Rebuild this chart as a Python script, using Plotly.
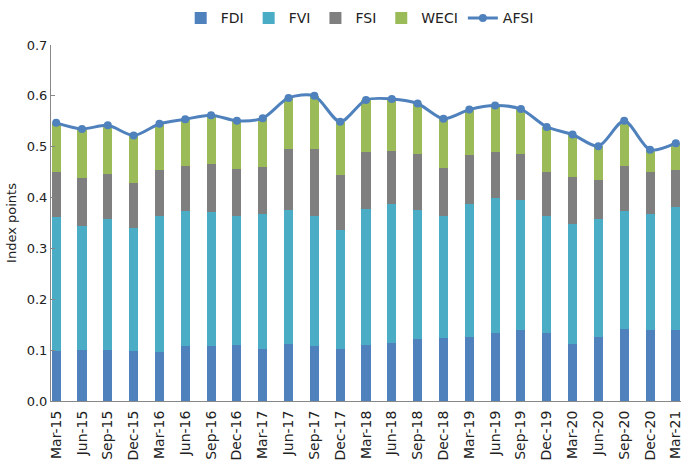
import plotly.graph_objects as go

categories = ["Mar-15","Jun-15","Sep-15","Dec-15","Mar-16","Jun-16","Sep-16","Dec-16",
              "Mar-17","Jun-17","Sep-17","Dec-17","Mar-18","Jun-18","Sep-18","Dec-18",
              "Mar-19","Jun-19","Sep-19","Dec-19","Mar-20","Jun-20","Sep-20","Dec-20","Mar-21"]

fdi = [0.098,0.100,0.100,0.098,0.096,0.108,0.109,0.111,0.103,0.112,0.108,0.103,0.110,
       0.114,0.122,0.124,0.126,0.134,0.139,0.134,0.113,0.126,0.142,0.139,0.140]
fvi = [0.264,0.244,0.258,0.243,0.268,0.266,0.262,0.253,0.264,0.264,0.256,0.233,0.267,
       0.273,0.254,0.240,0.261,0.265,0.256,0.230,0.236,0.232,0.232,0.229,0.241]
fsi = [0.088,0.095,0.089,0.088,0.090,0.088,0.095,0.092,0.093,0.119,0.131,0.108,0.113,
       0.105,0.110,0.094,0.096,0.091,0.091,0.087,0.091,0.076,0.089,0.082,0.074]
weci = [0.097,0.096,0.095,0.093,0.091,0.092,0.096,0.095,0.096,0.101,0.105,0.105,0.102,
        0.102,0.099,0.097,0.090,0.091,0.088,0.088,0.084,0.067,0.088,0.044,0.052]
afsi = [0.547,0.535,0.542,0.522,0.545,0.554,0.562,0.551,0.556,0.596,0.600,0.549,0.592,
        0.594,0.585,0.555,0.573,0.581,0.574,0.539,0.524,0.501,0.551,0.494,0.507]

y_ticks = [0.0, 0.1, 0.2, 0.3, 0.4, 0.5, 0.6, 0.7]

FONT = "DejaVu Sans"
bar_w = 0.35

fig = go.Figure()
for name, vals, col in [("FDI", fdi, "#4F81BD"), ("FVI", fvi, "#4BACC6"),
                        ("FSI", fsi, "#7F7F7F"), ("WECI", weci, "#9BBB59")]:
    fig.add_trace(go.Bar(x=categories, y=vals, name=name, marker_color=col,
                         marker_line_width=0, width=bar_w))

fig.add_trace(go.Scatter(x=categories, y=afsi, name="AFSI", mode="lines+markers",
                         line=dict(color="#4F81BD", width=3, shape="spline", smoothing=0.8),
                         marker=dict(size=8, color="#4F81BD"), cliponaxis=False))

fig.update_layout(
    barmode="stack",
    width=681, height=463,
    margin=dict(l=51, r=0, t=45, b=62),
    plot_bgcolor="white", paper_bgcolor="white",
    font=dict(family=FONT, size=13, color="#222222"),
    showlegend=True,
    legend=dict(orientation="h", x=0.49, xanchor="center", y=0.995, yanchor="top",
                yref="container", font=dict(size=14), itemwidth=30,
                traceorder="normal"),
    xaxis=dict(type="category", range=[-0.2, 24.2], showgrid=False, automargin=False,
               showline=True, linecolor="#888888", linewidth=1,
               tickangle=-90, ticks="", tickfont=dict(size=14), ticklabelstandoff=3),
    yaxis=dict(range=[0, 0.7], tickvals=y_ticks, tickformat=".1f", showgrid=False,
               automargin=False,
               showline=True, linecolor="#888888", linewidth=1,
               ticks="inside", ticklen=4, tickcolor="#888888",
               zeroline=False, tickfont=dict(size=13),
               title=dict(text="Index points", font=dict(size=13), standoff=7)),
)

fig.write_html("out.html", config={"displayModeBar": False},
               post_script="document.body.style.margin='0';document.body.style.overflow='hidden';")
